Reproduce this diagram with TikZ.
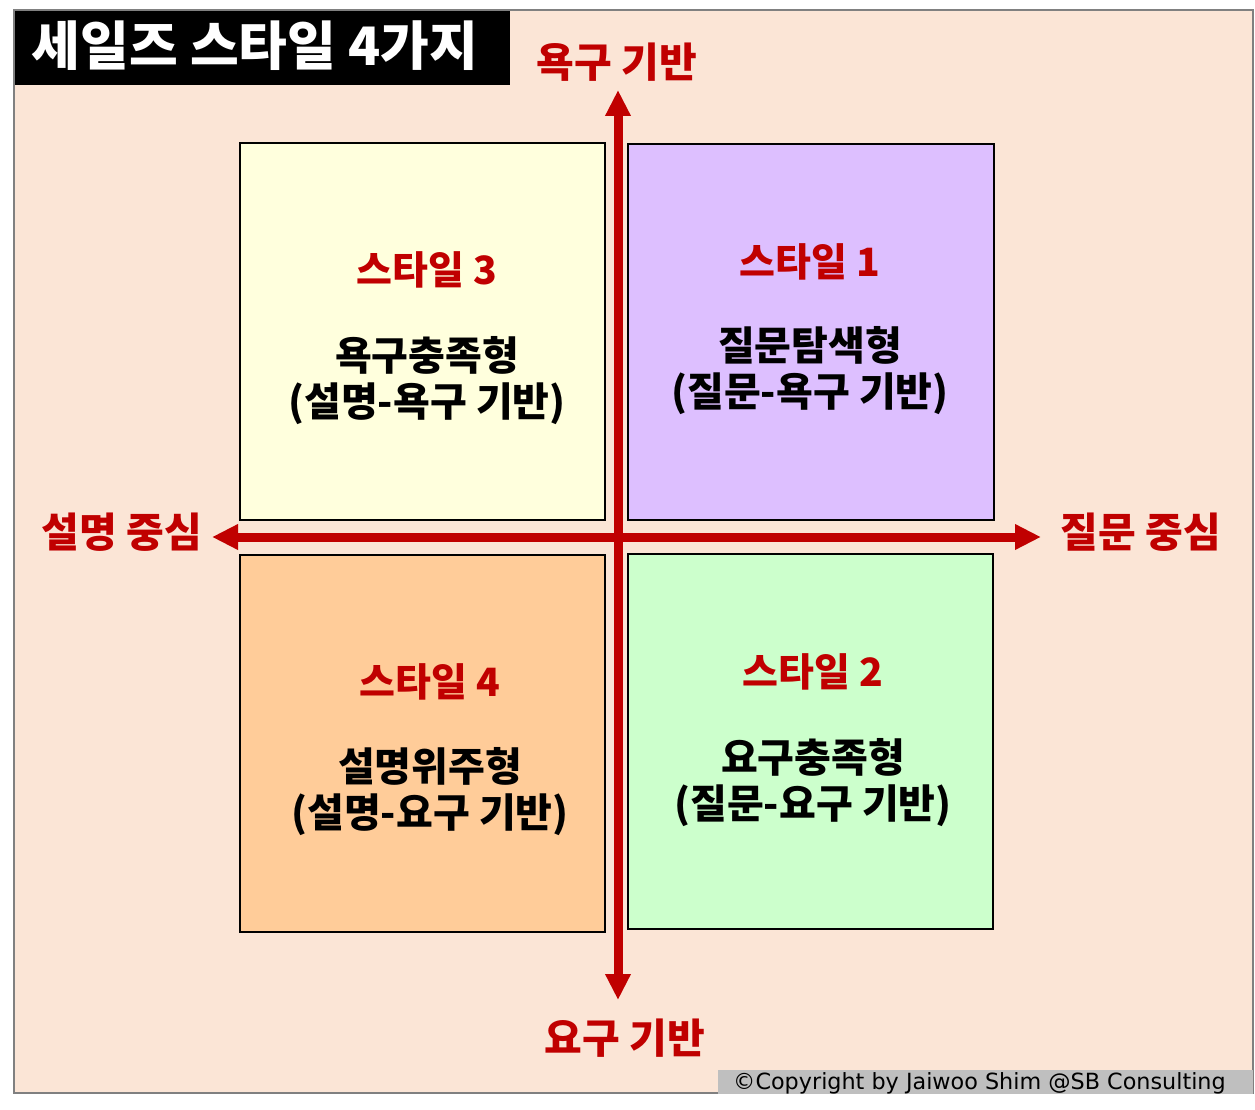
\documentclass[tikz,border=0pt]{standalone}
\usepackage{fontspec}
\setmainfont{Noto Sans CJK KR}
\newfontfamily\copyfont{DejaVu Sans}
\usepackage{tikz}
\usetikzlibrary{positioning,arrows.meta}
\definecolor{bgpeach}{HTML}{FBE5D6}
\definecolor{axisred}{HTML}{C00000}
\definecolor{boxyellow}{HTML}{FFFFDD}
\definecolor{boxpurple}{HTML}{DDBFFF}
\definecolor{boxorange}{HTML}{FFCC99}
\definecolor{boxgreen}{HTML}{CCFFCC}
\definecolor{copygray}{HTML}{BFBFBF}
\begin{document}
\begin{tikzpicture}[x=1pt,y=-1pt,
  quad/.style={draw=black,line width=1.5pt},
  axis/.style={draw=axisred,line width=9pt,{Triangle[length=26pt,width=24pt]}-{Triangle[length=26pt,width=24pt]}},
  axislabel/.style={text=axisred,font=\fontsize{41}{44}\selectfont\bfseries,inner sep=0pt},
  stylename/.style={text=axisred,font=\fontsize{39}{42}\selectfont\bfseries,inner sep=0pt},
  typename/.style={text=black,font=\fontsize{40}{46}\selectfont\bfseries,align=center,inner sep=0pt}]
    \useasboundingbox (0,0) rectangle (1255,1110);
    \filldraw [fill=bgpeach,draw=gray,line width=1.5pt] (14,10) rectangle (1253,1093);
    \fill [black] (15,11) rectangle (510,85);
    \node (title) [text=white,font=\fontsize{53}{56}\selectfont\bfseries,inner sep=0pt] at (255,46) {세일즈 스타일 4가지};

    \filldraw [quad,fill=boxyellow] (240,143) rectangle (605,520);
    \filldraw [quad,fill=boxpurple] (628,144) rectangle (994,520);
    \filldraw [quad,fill=boxorange] (240,555) rectangle (605,932);
    \filldraw [quad,fill=boxgreen] (628,554) rectangle (993,929);

    \coordinate (top) at (618,90);
    \coordinate (bottom) at (618,1000);
    \coordinate (left) at (212,537);
    \coordinate (right) at (1041,537);
    \draw [axis] (bottom) -- (top);
    \draw [axis] (left) -- (right);

    \node (needtop) [axislabel] at (617,62) {욕구 기반};
    \node (needbottom) [axislabel] at (625,1038) {요구 기반};
    \node (explain) [axislabel] at (122,532) {설명 중심};
    \node (question) [axislabel] at (1141,532) {질문 중심};

    \node (s3) [stylename] at (427,270) {스타일 3};
    \node (t3) [typename] at (427,381) {욕구충족형\\(설명-욕구 기반)};
    \node (s1) [stylename] at (810,262) {스타일 1};
    \node (t1) [typename] at (810,371) {질문탐색형\\(질문-욕구 기반)};
    \node (s4) [stylename] at (430,682) {스타일 4};
    \node (t4) [typename] at (430,792) {설명위주형\\(설명-요구 기반)};
    \node (s2) [stylename] at (813,672) {스타일 2};
    \node (t2) [typename] at (813,783) {요구충족형\\(질문-요구 기반)};

    \fill [copygray] (718,1070) rectangle (1253,1094);
    \node (copy) [font=\copyfont\fontsize{22.3}{24}\selectfont,inner sep=0pt,anchor=west] at (733,1083) {©Copyright by Jaiwoo Shim @SB Consulting};
\end{tikzpicture}
\end{document}
